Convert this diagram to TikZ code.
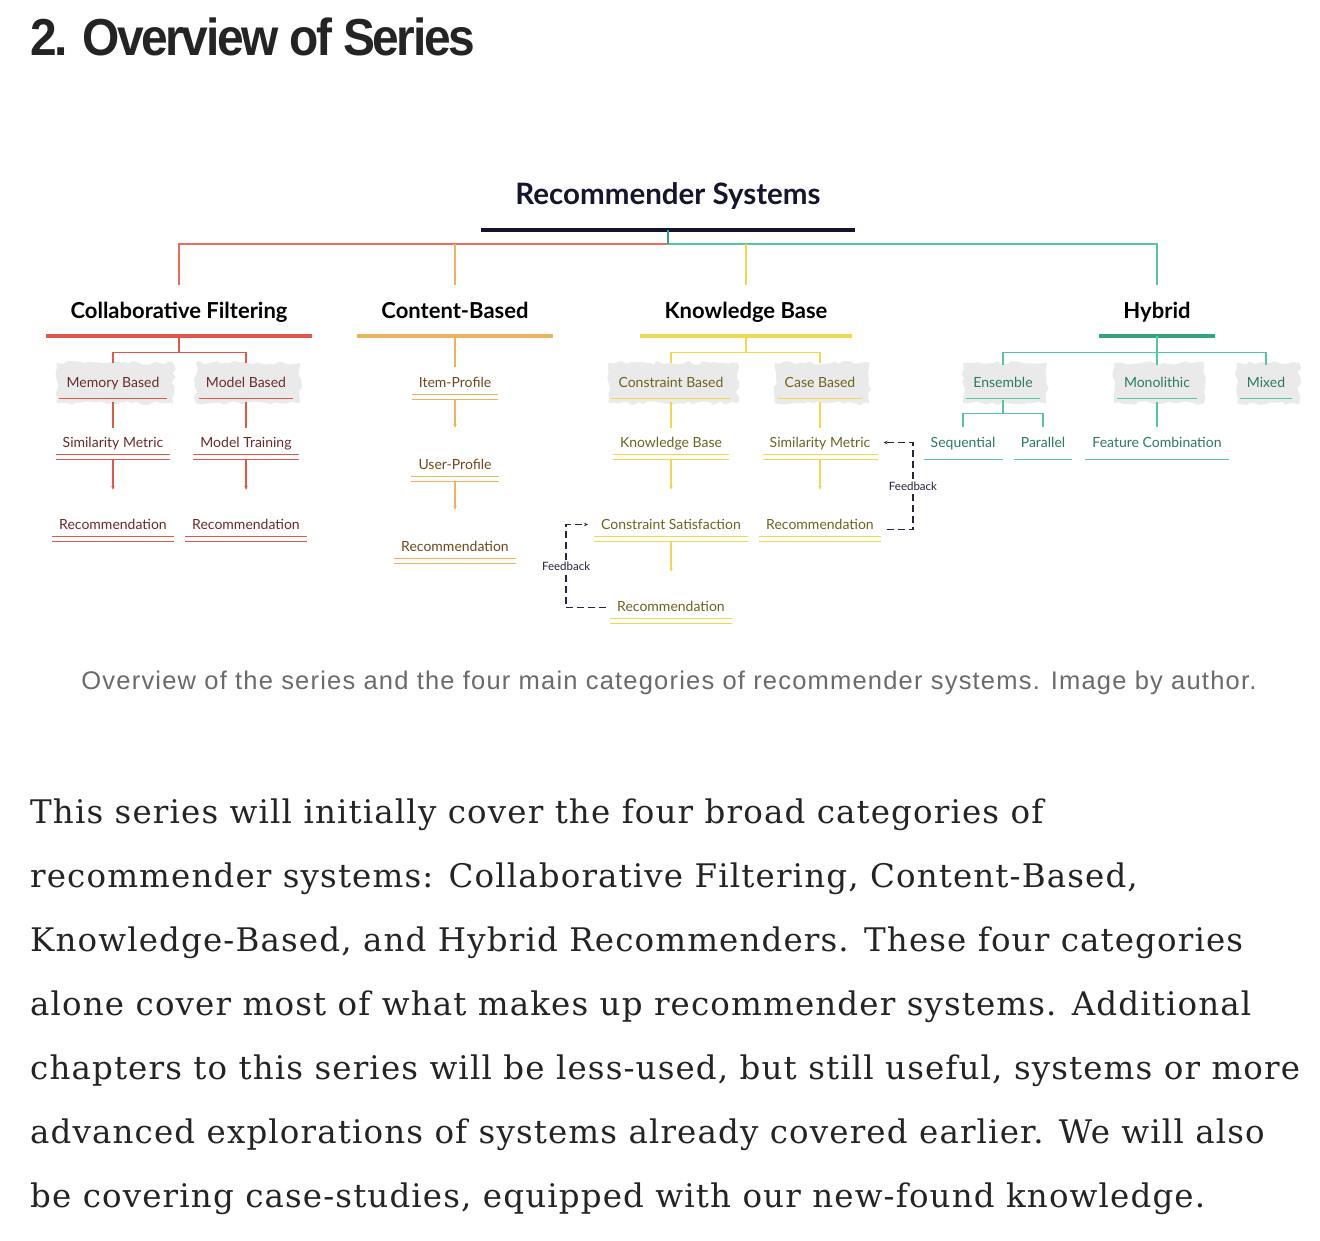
\documentclass[tikz,border=0pt]{standalone}
\usepackage{fontspec}
\setmainfont{DejaVu Serif}
\newfontfamily\lato{Lato}
\newfontfamily\headfont{Liberation Sans}
\usetikzlibrary{arrows.meta,calc,decorations.pathmorphing,backgrounds}
\definecolor{cfline}{HTML}{E2574C}
\definecolor{cftop}{HTML}{EE6A5C}
\definecolor{cftext}{HTML}{6B2B2B}
\definecolor{cbline}{HTML}{ECB35E}
\definecolor{cbtext}{HTML}{6E4A1E}
\definecolor{kbline}{HTML}{F1D84C}
\definecolor{kbtext}{HTML}{6B6423}
\definecolor{hyline}{HTML}{55C79C}
\definecolor{hydark}{HTML}{34A57A}
\definecolor{hytext}{HTML}{2E7A5C}
\definecolor{navy}{HTML}{15152E}
\definecolor{fbcol}{HTML}{24243C}
\definecolor{hlgray}{HTML}{EAEAEA}
\definecolor{captext}{HTML}{6B6B6B}
\definecolor{bodytext}{HTML}{242424}
\tikzset{
  sub/.style={font=\lato\fontsize{14}{16}\selectfont, inner xsep=7pt, inner ysep=0pt, text height=10pt, anchor=base},
  dbl/.style={sub, text depth=7pt},
  sgl/.style={sub, text depth=11pt},
  leaf/.style={sub, text depth=12pt},
  cat/.style={font=\lato\bfseries\fontsize{22}{26}\selectfont, inner xsep=24pt, inner ysep=0pt, text height=17pt, text depth=18pt, anchor=base, text=black},
  ttl/.style={font=\lato\bfseries\fontsize{29.5}{34}\selectfont, inner xsep=34pt, inner ysep=0pt, text height=21pt, text depth=26pt, anchor=base, text=navy},
  thin1/.style={line width=1.4pt},
  mid1/.style={line width=2pt},
  arr/.style={-{Stealth[length=4pt,width=3.5pt]}},
  fb/.style={fbcol, line width=1.5pt, dash pattern=on 7pt off 4pt},
  fblabel/.style={font=\lato\fontsize{11.5}{12}\selectfont, fill=white, inner sep=1.5pt, text=fbcol},
  hl/.style={hlgray, decorate, decoration={random steps, segment length=5pt, amplitude=2pt}},
  para/.style={font=\fontsize{32.5}{38}\selectfont\addfontfeature{LetterSpace=3.5}, text=bodytext, anchor=base west, inner sep=0pt},
}
\begin{document}
\begin{tikzpicture}[x=1pt,y=-1pt]
\pgfmathsetseed{7}
\useasboundingbox (0,0) rectangle (1320,1240);
\begin{scope}[on background layer]
\fill[white] (0,0) rectangle (1320,1240);
\end{scope}

% heading
\node[anchor=base west, inner sep=0pt, text=bodytext] (head) at (30,55)
  {\scalebox{0.921}[1]{\headfont\bfseries\fontsize{52}{60}\selectfont\addfontfeature{LetterSpace=-5}2. Overview of Series}};

% title and categories
\node[ttl] (title) at (668,204) {Recommender Systems};
\node[cat] (cf) at (179,318) {Collaborative Filtering};
\node[cat] (cb) at (455,318) {Content-Based};
\node[cat] (kb) at (746,318) {Knowledge Base};
\node[cat] (hy) at (1157,318) {Hybrid};

% collaborative filtering
\begin{scope}[text=cftext]
\node[sgl] (mem) at (113,387) {Memory Based};
\node[sgl] (mod) at (246,387) {Model Based};
\node[dbl] (sim) at (113,447) {Similarity Metric};
\node[dbl] (mtr) at (246,447) {Model Training};
\node[dbl] (rec1) at (113,529) {Recommendation};
\node[dbl] (rec2) at (246,529) {Recommendation};
\end{scope}
% content based
\begin{scope}[text=cbtext]
\node[dbl] (item) at (455,387) {Item-Profile};
\node[dbl] (user) at (455,469) {User-Profile};
\node[dbl] (rec3) at (455,551) {Recommendation};
\end{scope}
% knowledge base
\begin{scope}[text=kbtext]
\node[sgl] (conb) at (671,387) {Constraint Based};
\node[sgl] (caseb) at (820,387) {Case Based};
\node[dbl] (kbk) at (671,447) {Knowledge Base};
\node[dbl] (smk) at (820,447) {Similarity Metric};
\node[dbl] (cs) at (671,529) {Constraint Satisfaction};
\node[dbl] (rec4) at (820,529) {Recommendation};
\node[dbl] (rec5) at (671,611) {Recommendation};
\end{scope}
% hybrid
\begin{scope}[text=hytext]
\node[sgl] (ens) at (1003,387) {Ensemble};
\node[sgl] (mono) at (1157,387) {Monolithic};
\node[sgl] (mix) at (1266,387) {Mixed};
\node[leaf] (seq) at (963,447) {Sequential};
\node[leaf] (par) at (1043,447) {Parallel};
\node[leaf] (feat) at (1157,447) {Feature Combination};
\end{scope}

% highlights
\begin{scope}[on background layer]
\foreach \n in {mem,mod,conb,caseb,ens,mono,mix}
  \fill[hl] ($(\n.north west)+(-3,-14)$) rectangle ($(\n.south east)+(7,5)$);
\end{scope}

% underlines
\draw[navy, line width=3.5pt] (title.south west) -- (title.south east);
\draw[cfline, line width=4pt] (cf.south west) -- (cf.south east);
\draw[cbline, line width=4pt] (cb.south west) -- (cb.south east);
\draw[kbline, line width=4pt] (kb.south west) -- (kb.south east);
\draw[hydark, line width=4pt] (hy.south west) -- (hy.south east);
\foreach \n/\c in {mem/cfline,mod/cfline,conb/kbline,caseb/kbline,ens/hyline,mono/hyline,mix/hyline,seq/hyline,par/hyline,feat/hyline}
  \draw[\c, thin1] (\n.south west) -- (\n.south east);
\foreach \n/\c in {sim/cfline,mtr/cfline,rec1/cfline,rec2/cfline,item/cbline,user/cbline,rec3/cbline,kbk/kbline,smk/kbline,cs/kbline,rec4/kbline,rec5/kbline}
  \draw[\c, thin1] (\n.south west) -- (\n.south east) ($(\n.south west)+(0,5)$) -- ($(\n.south east)+(0,5)$);

% top connectors
\coordinate (hub) at ($(title.south)+(0,14)$);
\draw[cftop, mid1, shorten >=16pt] (hub) -| (cf.north);
\draw[hyline, mid1, shorten >=16pt] (hub) -| (hy.north);
\draw[cbline, mid1, shorten >=16pt] (hub -| cb.north) -- (cb.north);
\draw[kbline, mid1, shorten >=16pt] (hub -| kb.north) -- (kb.north);
\draw[hydark, line width=1.5pt] (title.south) -- (hub);

% CF tree
\coordinate (cfj) at ($(cf.south)+(0,16)$);
\draw[cfline, thin1] (cf.south) -- (cfj);
\draw[cfline, thin1, shorten >=14pt] (cfj) -| (mem.north);
\draw[cfline, thin1, shorten >=14pt] (cfj) -| (mod.north);
\draw[cfline, thin1, shorten <=4pt, shorten >=9pt] (mem.south) -- (sim.north);
\draw[cfline, thin1, shorten <=4pt, shorten >=9pt] (mod.south) -- (mtr.north);
\draw[cfline, thin1, arr, shorten <=5pt, shorten >=29pt] (sim.south) -- (rec1.north);
\draw[cfline, thin1, arr, shorten <=5pt, shorten >=29pt] (mtr.south) -- (rec2.north);

% CB chain
\draw[cbline, thin1, shorten >=10pt] (cb.south) -- (item.north);
\draw[cbline, thin1, arr, shorten <=5pt, shorten >=31pt] (item.south) -- (user.north);
\draw[cbline, thin1, arr, shorten <=5pt, shorten >=31pt] (user.south) -- (rec3.north);

% KB tree
\coordinate (kbj) at ($(kb.south)+(0,16)$);
\draw[kbline, thin1] (kb.south) -- (kbj);
\draw[kbline, thin1, shorten >=14pt] (kbj) -| (conb.north);
\draw[kbline, thin1, shorten >=14pt] (kbj) -| (caseb.north);
\draw[kbline, thin1, shorten <=4pt, shorten >=9pt] (conb.south) -- (kbk.north);
\draw[kbline, thin1, shorten <=4pt, shorten >=9pt] (caseb.south) -- (smk.north);
\draw[kbline, thin1, arr, shorten <=5pt, shorten >=29pt] (kbk.south) -- (cs.north);
\draw[kbline, thin1, arr, shorten <=5pt, shorten >=29pt] (smk.south) -- (rec4.north);
\draw[kbline, thin1, arr, shorten <=5pt, shorten >=29pt] (cs.south) -- (rec5.north);

% feedback loops
\draw[fb, arr] ($(rec4.east)+(6,2)$) -- ++(26,0) |- node[fblabel, pos=0.25] {Feedback} ($(smk.east)+(6,-3)$);
\draw[fb, arr] ($(rec5.west)+(-4,-2)$) -- ++(-40,0) |- node[fblabel, pos=0.25] {Feedback} ($(cs.west)+(-6,-3)$);

% Hybrid tree
\coordinate (hyj) at ($(hy.south)+(0,16)$);
\draw[hyline, thin1] (hy.south) -- (hyj);
\draw[hyline, thin1, shorten >=12pt] (hyj) -| (ens.north);
\draw[hyline, thin1, shorten >=12pt] (hyj) -| (mono.north);
\draw[hyline, thin1, shorten >=12pt] (hyj) -| (mix.north);
\coordinate (ensj) at ($(ens.south)+(0,15)$);
\draw[hyline, thin1, shorten <=2pt] (ens.south) -- (ensj);
\draw[hyline, thin1, shorten >=10pt] (ensj) -| (seq.north);
\draw[hyline, thin1, shorten >=10pt] (ensj) -| (par.north);
\draw[hyline, thin1, shorten <=4pt, shorten >=10pt] (mono.south) -- (feat.north);

% caption
\node[anchor=base, inner sep=0pt, text=captext, font=\headfont\fontsize{25.5}{30}\selectfont\addfontfeature{LetterSpace=4.7}] (cap) at (669,689)
  {Overview of the series and the four main categories of recommender systems. Image by author.};

% paragraph
\node[para] (p1) at (30,823) {This series will initially cover the four broad categories of};
\node[para] (p2) at (30,887) {recommender systems: Collaborative Filtering, Content-Based,};
\node[para] (p3) at (30,951) {Knowledge-Based, and Hybrid Recommenders. These four categories};
\node[para] (p4) at (30,1015) {alone cover most of what makes up recommender systems. Additional};
\node[para] (p5) at (30,1079) {chapters to this series will be less-used, but still useful, systems or more};
\node[para] (p6) at (30,1143) {advanced explorations of systems already covered earlier. We will also};
\node[para] (p7) at (30,1207) {be covering case-studies, equipped with our new-found knowledge.};
\end{tikzpicture}
\end{document}
